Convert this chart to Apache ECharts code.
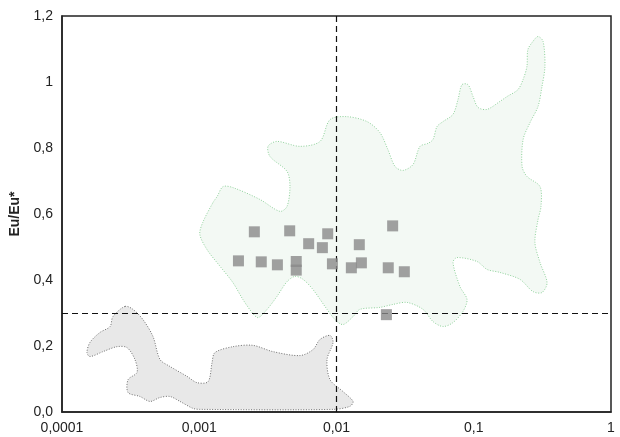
<!DOCTYPE html>
<html>
<head>
<meta charset="utf-8">
<script src="https://cdn.jsdelivr.net/npm/echarts@6/dist/echarts.min.js"></script>
<style>
  html, body { margin: 0; padding: 0; background: #ffffff; }
  #chart { width: 620px; height: 437px; }
</style>
</head>
<body>
<div id="chart"></div>
<script>
// Sample measurements: x (log scale) and Eu/Eu*
const sampleX = [0.00252, 0.00456, 0.00863, 0.00627, 0.00789, 0.01466, 0.02565,
                 0.00193, 0.00283, 0.00371, 0.00509, 0.00509, 0.00934, 0.01283,
                 0.01518, 0.02383, 0.0312, 0.0231];
const sampleEu = [0.546, 0.549, 0.540, 0.510, 0.498, 0.507, 0.564,
                  0.458, 0.455, 0.446, 0.456, 0.430, 0.449, 0.437,
                  0.452, 0.437, 0.425, 0.295];

// Outline of the upper (green) field
const fieldA = [
  [1.26e-3, 0.635], [1.35e-3, 0.653], [1.49e-3, 0.683], [1.76e-3, 0.680], [2.77e-3, 0.644],
  [3.87e-3, 0.608], [4.36e-3, 0.623], [4.58e-3, 0.683], [4.36e-3, 0.729], [3.28e-3, 0.774],
  [3.17e-3, 0.805], [3.68e-3, 0.820], [5.42e-3, 0.805], [7.59e-3, 0.820], [8.97e-3, 0.886],
  [1.19e-2, 0.895], [1.67e-2, 0.880], [2.07e-2, 0.847], [2.37e-2, 0.795], [2.67e-2, 0.744],
  [3.05e-2, 0.732], [3.61e-2, 0.750], [4.06e-2, 0.805], [4.64e-2, 0.814], [5.05e-2, 0.826],
  [5.40e-2, 0.865], [5.97e-2, 0.880], [7.06e-2, 0.902], [7.68e-2, 0.947], [8.21e-2, 0.992],
  [9.08e-2, 0.992], [9.88e-2, 0.956], [0.1074, 0.923], [0.125, 0.917], [0.155, 0.941],
  [0.175, 0.956], [0.210, 0.977], [0.229, 1.008], [0.244, 1.047], [0.248, 1.098],
  [0.270, 1.123], [0.294, 1.138], [0.320, 1.123], [0.330, 1.047], [0.314, 0.986],
  [0.294, 0.926], [0.257, 0.877], [0.229, 0.826], [0.225, 0.744], [0.244, 0.714],
  [0.304, 0.683], [0.309, 0.623], [0.294, 0.583], [0.279, 0.514], [0.304, 0.453],
  [0.342, 0.392], [0.314, 0.362], [0.270, 0.365], [0.217, 0.402], [0.155, 0.423],
  [0.125, 0.432], [0.1057, 0.456], [7.55e-2, 0.468], [7.06e-2, 0.453], [7.94e-2, 0.380],
  [8.93e-2, 0.341], [8.35e-2, 0.305], [7.06e-2, 0.271], [5.97e-2, 0.259], [5.05e-2, 0.274],
  [4.27e-2, 0.311], [3.27e-2, 0.332], [2.58e-2, 0.326], [2.07e-2, 0.317], [1.48e-2, 0.311],
  [1.32e-2, 0.289], [1.115e-2, 0.265], [9.75e-3, 0.280], [8.53e-3, 0.311], [6.74e-3, 0.371],
  [5.70e-3, 0.402], [4.99e-3, 0.411], [4.36e-3, 0.395], [3.68e-3, 0.350], [3.12e-3, 0.311],
  [2.68e-3, 0.286], [2.42e-3, 0.302], [2.08e-3, 0.341], [1.76e-3, 0.392], [1.42e-3, 0.441],
  [1.14e-3, 0.492], [1.01e-3, 0.538], [1.06e-3, 0.574]
];

// Outline of the lower (grey) field
const fieldB = [
  [2.88e-4, 0.320], [3.29e-4, 0.311], [3.89e-4, 0.280], [4.60e-4, 0.229], [5.18e-4, 0.159],
  [6.12e-4, 0.138], [8.15e-4, 0.108], [9.63e-4, 0.089], [1.16e-3, 0.092], [1.24e-3, 0.150],
  [1.30e-3, 0.180], [1.76e-3, 0.198], [2.46e-3, 0.202], [3.44e-3, 0.183], [5.42e-3, 0.171],
  [6.74e-3, 0.189], [7.59e-3, 0.220], [8.97e-3, 0.232], [9.44e-3, 0.211], [8.53e-3, 0.159],
  [8.97e-3, 0.098], [1.115e-2, 0.062], [1.32e-2, 0.032], [1.25e-2, 0.017], [9.44e-3, 0.008],
  [1.01e-3, 0.008], [9.0e-4, 0.011], [7.24e-4, 0.032], [6.12e-4, 0.047], [5.18e-4, 0.044],
  [4.38e-4, 0.032], [3.70e-4, 0.047], [3.03e-4, 0.059], [3.03e-4, 0.098], [3.52e-4, 0.120],
  [3.40e-4, 0.159], [2.98e-4, 0.195], [2.52e-4, 0.198], [1.99e-4, 0.183], [1.60e-4, 0.168],
  [1.52e-4, 0.180], [1.60e-4, 0.211], [1.89e-4, 0.241], [2.24e-4, 0.259], [2.35e-4, 0.289]
];

// Reference thresholds
const thresholdX = 0.01;
const thresholdEu = 0.3;

// Tick labels
const xTickLabels = { 0.0001: '0,0001', 0.001: '0,001', 0.01: '0,01', 0.1: '0,1', 1: '1' };
const yTickLabels = { 0: '0,0', 0.2: '0,2', 0.4: '0,4', 0.6: '0,6', 0.8: '0,8', 1: '1', 1.2: '1,2' };

const FONT = '"Liberation Sans", Arial, sans-serif';

function fieldSeries(points, fill, stroke) {
  return {
    type: 'custom',
    coordinateSystem: 'cartesian2d',
    silent: true,
    clip: true,
    data: [0],
    z: 1,
    renderItem: function (params, api) {
      const pts = points.map(p => api.coord(p));
      return {
        type: 'polygon',
        shape: { points: pts, smooth: 0.3 },
        style: { fill: fill, stroke: stroke, lineWidth: 1, lineDash: [1, 1.6] }
      };
    }
  };
}

const chart = echarts.init(document.getElementById('chart'), null, { renderer: 'canvas' });

chart.setOption({
  animation: false,
  backgroundColor: '#ffffff',
  grid: {
    left: 62, right: 9, top: 16, bottom: 25,
    show: true, borderColor: '#222222', borderWidth: 1.5, backgroundColor: 'transparent'
  },
  xAxis: {
    type: 'log',
    logBase: 10,
    min: 0.0001,
    max: 1,
    axisLine: { show: true, lineStyle: { color: '#222222', width: 1.5 } },
    axisTick: { show: false },
    splitLine: { show: false },
    minorTick: { show: false },
    axisLabel: {
      color: '#222222', fontSize: 14, fontFamily: FONT, margin: 9,
      formatter: v => xTickLabels[+v.toPrecision(6)] || ''
    }
  },
  yAxis: {
    type: 'value',
    min: 0,
    max: 1.2,
    interval: 0.2,
    name: 'Eu/Eu*',
    nameLocation: 'middle',
    nameGap: 38,
    nameTextStyle: { color: '#222222', fontSize: 14, fontWeight: 'bold', fontFamily: FONT },
    axisLine: { show: true, lineStyle: { color: '#222222', width: 1.5 } },
    axisTick: { show: false },
    splitLine: { show: false },
    axisLabel: {
      color: '#222222', fontSize: 14, fontFamily: FONT, margin: 9,
      formatter: v => yTickLabels[+v.toFixed(1)] || ''
    }
  },
  series: [
    fieldSeries(fieldA, '#f3f9f4', '#8fd29b'),
    fieldSeries(fieldB, '#e8e8e8', '#707070'),
    {
      type: 'scatter',
      symbol: 'rect',
      symbolSize: 11,
      z: 5,
      itemStyle: { color: '#8a8a8a' },
      data: sampleX.map((x, i) => [x, sampleEu[i]]),
      markLine: {
        silent: true,
        symbol: 'none',
        label: { show: false },
        lineStyle: { color: '#111111', type: [6, 4], width: 1.2 },
        data: [{ xAxis: thresholdX }, { yAxis: thresholdEu }]
      }
    }
  ]
});
</script>
</body>
</html>
